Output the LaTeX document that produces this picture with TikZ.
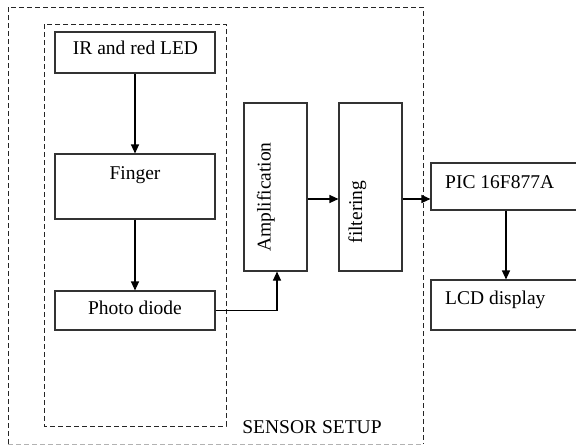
\documentclass[tikz,border=0pt]{standalone}
\usepackage{fontspec}
\setmainfont{Liberation Serif}
\usetikzlibrary{arrows.meta}
\begin{document}
\begin{tikzpicture}[x=1pt,y=-1pt,
  box/.style={draw=black!80, line width=1.1pt, inner sep=0pt, minimum width=#1},
  lbl/.style={inner sep=0pt, font=\fontsize{19.5}{23}\selectfont},
  dashframe/.style={draw=black!85, line width=0.9pt, dash pattern=on 5pt off 3pt},
  arr/.style={draw=black, line width=1.1pt, -{Triangle[length=9pt,width=8pt]}},
  con/.style={draw=black, line width=1.1pt}]
\useasboundingbox (0,0) rectangle (576,445);
\clip (0,0) rectangle (576,445);
\fill[white] (0,0) rectangle (576,445);
% frames
\draw[dashframe] (8,444) -- (8,7) -- (423,7) -- (423,444);
\draw[dashframe, draw=black!30] (8,444) -- (423,444);
\draw[dashframe] (44,24) rectangle (226,426);
% boxes
\node[box=160pt, minimum height=41pt] (ir) at (135,52.5) {};
\node[box=160pt, minimum height=65pt] (finger) at (135,186.5) {};
\node[box=160pt, minimum height=39pt] (photo) at (135,310.5) {};
\node[box=63pt, minimum height=168pt] (amp) at (275.5,187) {};
\node[box=63pt, minimum height=168pt] (filt) at (370.5,187) {};
\node[box=169pt, minimum height=47pt] (pic) at (515.5,186.5) {};
\node[box=169pt, minimum height=50pt] (lcd) at (515.5,305) {};
% texts
\node[lbl, anchor=base] (tir) at (135.5,54.5) {IR and red LED};
\node[lbl, anchor=base] (tfinger) at (135,179.5) {Finger};
\node[lbl, anchor=base] (tphoto) at (135,314.5) {Photo diode};
\node[lbl, anchor=base, rotate=90] (tamp) at (270.5,197) {Amplification};
\node[lbl, anchor=base, rotate=90] (tfilt) at (362,212) {filtering};
\node[lbl, anchor=base west] (tpic) at (445,188) {PIC 16F877A};
\node[lbl, anchor=base west] (tlcd) at (445,304) {LCD display};
\node[lbl, anchor=base] (tsensor) at (312,433) {SENSOR SETUP};
% helper coordinates
\coordinate (ay) at (0,199);
\coordinate (lx) at (506,0);
\coordinate (ux) at (277,0);
% connectors
\draw[arr] (ir.south) -- (finger.north);
\draw[arr] (finger.south) -- (photo.north);
\draw[arr] (photo.east) -| (ux |- amp.south);
\draw[arr] (amp.east |- ay) -- (filt.west |- ay);
\draw[arr] (filt.east |- ay) -- (pic.west |- ay);
\draw[arr] (lx |- pic.south) -- (lx |- lcd.north);
\end{tikzpicture}
\end{document}
